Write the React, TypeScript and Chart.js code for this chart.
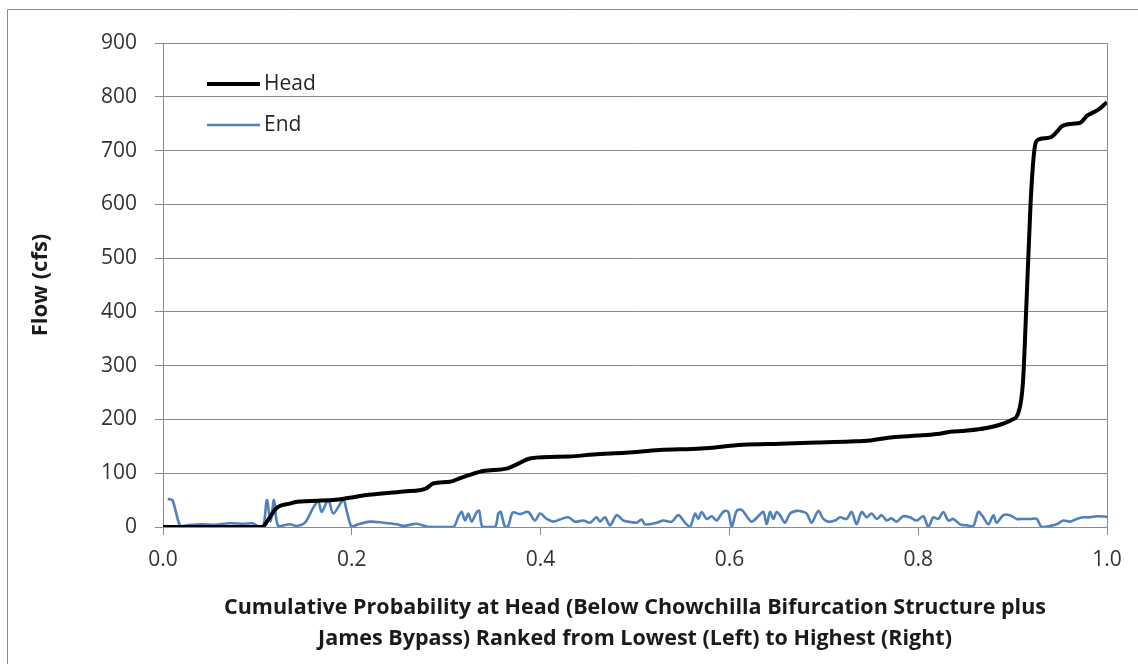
import React, { useEffect, useRef } from "react";
import { Chart, registerables } from "chart.js";

Chart.register(...registerables);

// ---- data ----
const seriesNames = ["Head", "End"];

const headP = [
  0, 0.105, 0.112, 0.12, 0.135, 0.142, 0.18, 0.2, 0.218, 0.255, 0.279, 0.286, 0.304,
  0.315, 0.325, 0.339, 0.365, 0.373, 0.39, 0.43, 0.456, 0.49, 0.526, 0.57, 0.614,
  0.654, 0.692, 0.728, 0.749, 0.773, 0.8, 0.82, 0.834, 0.85, 0.8725, 0.89, 0.9, 0.906,
  0.911, 0.915, 0.919, 0.923, 0.927, 0.935, 0.941, 0.947, 0.952, 0.964, 0.972, 0.979,
  0.99, 1.0,
];
const headFlow = [
  0, 0, 15, 35, 44, 47, 50, 55, 60, 66, 72, 81, 84,
  91, 97, 104, 109, 115, 128, 131, 135, 138, 143, 146, 153,
  155, 157, 159, 161, 167, 170, 173, 177, 179, 184, 192, 200, 212,
  270, 430, 600, 700, 720, 723, 725, 735, 745, 750, 752, 765,
  775, 790,
];

const endP = [
  0.005, 0.01, 0.018, 0.025, 0.04, 0.055, 0.07, 0.085, 0.095, 0.099, 0.106, 0.11, 0.114,
  0.1176, 0.122, 0.1345, 0.1416, 0.1504, 0.1592, 0.1645, 0.168, 0.1751, 0.1804, 0.191,
  0.1946, 0.1999, 0.2069, 0.2193, 0.2334, 0.2476, 0.2546, 0.2687, 0.2793, 0.2934, 0.3076,
  0.3128, 0.3164, 0.32, 0.3234, 0.327, 0.3323, 0.335, 0.3386, 0.3517, 0.3552, 0.3577,
  0.3623, 0.3658, 0.3704, 0.3782, 0.387, 0.394, 0.3994, 0.4064, 0.4134, 0.4206, 0.4294,
  0.4364, 0.4453, 0.4523, 0.4594, 0.4629, 0.4682, 0.4735, 0.4806, 0.4876, 0.4965, 0.5018,
  0.5071, 0.5106, 0.523, 0.53, 0.5389, 0.5459, 0.553, 0.5583, 0.5636, 0.567, 0.5706,
  0.576, 0.5812, 0.5865, 0.5918, 0.5953, 0.5989, 0.6024, 0.6077, 0.613, 0.6183, 0.6236,
  0.6306, 0.636, 0.6395, 0.643, 0.6465, 0.65, 0.6536, 0.6589, 0.6642, 0.6713, 0.6766,
  0.6819, 0.6872, 0.6942, 0.6995, 0.7048, 0.7119, 0.7172, 0.7242, 0.7295, 0.7348, 0.7401,
  0.7454, 0.7507, 0.756, 0.7613, 0.7666, 0.7715, 0.7772, 0.7842, 0.7913, 0.7984, 0.8054,
  0.8107, 0.816, 0.8213, 0.8266, 0.8319, 0.8372, 0.8443, 0.8514, 0.8584, 0.8637, 0.869,
  0.8743, 0.8796, 0.8831, 0.8902, 0.8972, 0.9043, 0.9114, 0.9184, 0.9255, 0.9308, 0.9396,
  0.9467, 0.9537, 0.9608, 0.9679, 0.975, 0.982, 0.9891, 1.0,
];
const endFlow = [
  52, 50, 3, 3, 5, 4, 7, 6, 7, 3, 0, 50, 10,
  50, 2, 5, 2, 8, 36, 48, 28, 50, 25, 50,
  30, 0, 5, 10, 8, 5, 2, 6, 1, 0, 0,
  19, 28, 12, 25, 10, 28, 30, 0, 0, 25, 28,
  0, 2, 27, 24, 28, 12, 25, 15, 10, 14, 18,
  10, 12, 8, 18, 10, 18, 3, 22, 12, 9, 8,
  14, 5, 8, 12, 10, 22, 8, 0, 25, 15, 28,
  15, 20, 12, 25, 30, 28, 0, 30, 32, 20, 10,
  20, 28, 5, 28, 15, 28, 22, 8, 25, 30, 29,
  25, 8, 30, 15, 10, 12, 18, 15, 28, 5, 28,
  18, 25, 15, 22, 12, 16, 10, 20, 18, 12, 20,
  0, 18, 15, 28, 12, 15, 5, 3, 2, 28, 18,
  5, 22, 8, 22, 22, 15, 15, 15, 15, 0, 2,
  5, 12, 10, 15, 18, 18, 20, 19,
];

const xTickValues = [0, 0.2, 0.4, 0.6, 0.8, 1.0];
const yTickValues = [0, 100, 200, 300, 400, 500, 600, 700, 800, 900];

const xTitle = [
  "Cumulative Probability at Head (Below Chowchilla Bifurcation Structure plus",
  "James Bypass) Ranked from Lowest (Left) to Highest (Right)",
];
const yTitle = "Flow (cfs)";

const seriesColors = ["#000000", "#4F81BD"];
const seriesWidths = [4, 2.6];

const FONT = "'Open Sans', 'Liberation Sans', sans-serif";
const GRID = "#8a8a8a";

const framePlugin = {
  id: "frame",
  beforeDraw(chart: any) {
    const ctx = chart.ctx;
    ctx.save();
    ctx.fillStyle = "#ffffff";
    ctx.fillRect(0, 0, chart.width, chart.height);
    ctx.strokeStyle = GRID;
    ctx.lineWidth = 1;
    ctx.beginPath();
    ctx.moveTo(7.5, chart.height);
    ctx.lineTo(7.5, 9.5);
    ctx.lineTo(chart.width, 9.5);
    ctx.stroke();
    ctx.restore();
  },
  afterDraw(chart: any) {
    const ctx = chart.ctx;
    const a = chart.chartArea;
    ctx.save();
    ctx.strokeStyle = GRID;
    ctx.lineWidth = 1;
    ctx.beginPath();
    ctx.moveTo(Math.round(a.right) + 0.5, a.top);
    ctx.lineTo(Math.round(a.right) + 0.5, a.bottom);
    ctx.stroke();
    // legend inside plot area
    chart.data.datasets.forEach((ds: any, i: number) => {
      const y = a.top + 41 + i * 41;
      ctx.strokeStyle = ds.borderColor;
      ctx.lineWidth = ds.borderWidth;
      ctx.beginPath();
      ctx.moveTo(a.left + 44, y);
      ctx.lineTo(a.left + 97, y);
      ctx.stroke();
      ctx.fillStyle = "#262626";
      ctx.font = `21px ${FONT}`;
      ctx.textBaseline = "middle";
      ctx.textAlign = "left";
      ctx.fillText(ds.label, a.left + 101, y);
    });
    ctx.restore();
  },
};

export default function App() {
  const ref = useRef<HTMLCanvasElement>(null);
  useEffect(() => {
    if (!ref.current) return;
    const headDs = {
      label: seriesNames[0],
      data: headP.map((p, i) => ({ x: p, y: headFlow[i] })),
      borderColor: seriesColors[0],
      borderWidth: seriesWidths[0],
      pointRadius: 0,
      cubicInterpolationMode: "monotone" as const,
      order: 1,
    };
    const endDs = {
      label: seriesNames[1],
      data: endP.map((p, i) => ({ x: p, y: endFlow[i] })),
      borderColor: seriesColors[1],
      borderWidth: seriesWidths[1],
      pointRadius: 0,
      tension: 0.3,
      order: 2,
    };
    const chart = new Chart(ref.current, {
      type: "line",
      data: { datasets: [headDs, endDs] },
      options: {
        responsive: false,
        animation: false,
        layout: { padding: { top: 43, right: 31, bottom: 0, left: 0 } },
        plugins: { legend: { display: false }, tooltip: { enabled: false } },
        scales: {
          x: {
            type: "linear",
            min: 0,
            max: 1,
            afterBuildTicks: (s: any) => {
              s.ticks = xTickValues.map((v) => ({ value: v }));
            },
            afterFit: (s: any) => {
              s.height = 137;
            },
            ticks: {
              callback: (v: any) => Number(v).toFixed(1),
              font: { family: FONT, size: 21 },
              color: "#333333",
              padding: 12,
              maxRotation: 0,
            },
            grid: { drawOnChartArea: false, drawTicks: true, tickLength: 8, color: GRID },
            border: { display: true, color: GRID },
            title: {
              display: true,
              text: xTitle,
              font: { family: FONT, size: 21.5, weight: "bold", lineHeight: "31px" },
              color: "#1a1a1a",
              padding: { top: 0, bottom: 10 },
            },
          },
          y: {
            type: "linear",
            min: 0,
            max: 900,
            afterBuildTicks: (s: any) => {
              s.ticks = yTickValues.map((v) => ({ value: v }));
            },
            afterFit: (s: any) => {
              s.width = 163;
            },
            ticks: {
              font: { family: FONT, size: 21 },
              color: "#333333",
              padding: 18,
            },
            grid: { drawOnChartArea: true, drawTicks: true, tickLength: 8, color: GRID },
            border: { display: true, color: GRID },
            title: {
              display: true,
              text: yTitle,
              font: { family: FONT, size: 22, weight: "bold", lineHeight: "31px" },
              color: "#1a1a1a",
              padding: { top: 25, bottom: 0 },
            },
          },
        },
      },
      plugins: [framePlugin],
    });
    return () => chart.destroy();
  }, []);

  return (
    <div style={{ position: "absolute", left: 0, top: 0, width: 1138, height: 664, background: "#fff" }}>
      <canvas ref={ref} width={1138} height={664} style={{ width: 1138, height: 664, display: "block" }} />
    </div>
  );
}
